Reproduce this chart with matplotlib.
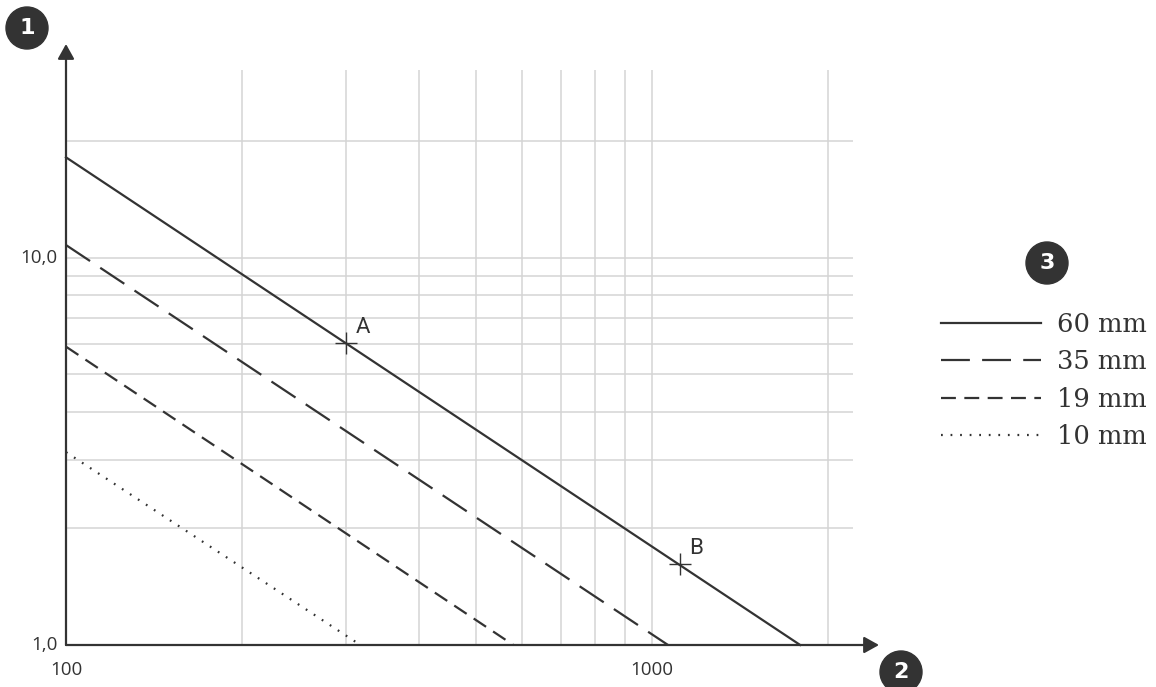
import matplotlib
matplotlib.use("Agg")
import matplotlib.pyplot as plt
from matplotlib.patches import Circle
from matplotlib.transforms import IdentityTransform

# line families: wall thickness, start/end of each line (x, y)
labels = ["60 mm", "35 mm", "19 mm", "10 mm"]
x_start = [100, 100, 100, 100]
y_start = [18.2, 10.8, 5.9, 3.15]
x_end = [1790, 1065, 580, 318]
y_end = [1.0, 1.0, 1.0, 1.0]
styles = ["-", (0, (13, 5.5)), (0, (6.7, 3.8)), (0, (0.8, 3.5))]

# marked points on the 60 mm line
pt_names = ["A", "B"]
pt_x = [300, 1115]
pt_y = [6.03, 1.62]

x_grid = [200, 300, 400, 500, 600, 700, 800, 900, 1000, 2000]
y_grid = [2, 3, 4, 5, 6, 7, 8, 9, 10, 20]
x_ticks = [100, 1000]
x_ticklabels = ["100", "1000"]
y_ticks = [1, 10]
y_ticklabels = ["1,0", "10,0"]

W, H = 1156, 687
INK = "#333333"
GRID = "#d4d4d4"

fig = plt.figure(figsize=(W / 100, H / 100), dpi=100)
ax = fig.add_axes([66 / W, 1 - 645 / H, (853 - 66) / W, (645 - 70) / H])
ax.set_xscale("log")
ax.set_yscale("log")
ax.set_xlim(100, 2203)
ax.set_ylim(1, 30.6)

for gx in x_grid:
    ax.axvline(gx, color=GRID, lw=1.1, zorder=1)
for gy in y_grid:
    ax.axhline(gy, color=GRID, lw=1.1, zorder=1)

for sp in ax.spines.values():
    sp.set_visible(False)
ax.minorticks_off()
ax.set_xticks(x_ticks)
ax.set_yticks(y_ticks)
ax.set_xticklabels([])
ax.set_yticklabels([])
ax.tick_params(length=0)

tick_font = dict(family="Open Sans", fontsize=13.5, color=INK)
for xt, lab in zip(x_ticks, x_ticklabels):
    ax.annotate(lab, (xt, 1), xytext=(0, -18), textcoords="offset points",
                ha="center", va="center", annotation_clip=False, **tick_font)
for yt, lab in zip(y_ticks, y_ticklabels):
    ax.annotate(lab, (100, yt), xytext=(-6, 0), textcoords="offset points",
                ha="right", va="center", annotation_clip=False, **tick_font)

# axes with arrow heads
arrow = dict(arrowstyle="-|>,head_length=0.9,head_width=0.5", color=INK, lw=1.6,
             shrinkA=0, shrinkB=0)
ax.annotate("", xy=(879 / W, 1 - 645 / H), xytext=(66 / W, 1 - 645 / H),
            xycoords="figure fraction", arrowprops=arrow)
ax.annotate("", xy=(66 / W, 1 - 44 / H), xytext=(66 / W, 1 - 645 / H),
            xycoords="figure fraction", arrowprops=arrow)

for xs, ys, xe, ye, st, lab in zip(x_start, y_start, x_end, y_end, styles, labels):
    ax.plot([xs, xe], [ys, ye], color=INK, lw=1.6, linestyle=st, label=lab,
            zorder=3, clip_on=False)

ax.plot(pt_x, pt_y, linestyle="none", marker="+", markersize=16,
        markeredgewidth=1.0, color=INK, zorder=4)
for name, px, py in zip(pt_names, pt_x, pt_y):
    ax.annotate(name, (px, py), xytext=(7, 11), textcoords="offset points",
                ha="left", va="center", family="Roboto", fontsize=16, color=INK)

fig.legend(loc="upper left", bbox_to_anchor=(941 / W, 1 - 312 / H), frameon=False,
           handlelength=3.9, handletextpad=0.6, labelspacing=0.48,
           borderaxespad=0, borderpad=0,
           prop=dict(family="DejaVu Serif", size=18.5), labelcolor=INK)

# numbered badges
badges = [("1", 27, 28), ("2", 901, 672), ("3", 1047, 263)]
for num, bx, by in badges:
    fig.patches.append(Circle((bx, H - by), radius=21, color=INK,
                              transform=IdentityTransform(), zorder=5))
    fig.text(bx / W, 1 - by / H, num, ha="center", va="center", color="white",
             fontsize=16, fontweight="bold", family="DejaVu Sans", zorder=6)

fig.savefig("out.png", dpi=100)
